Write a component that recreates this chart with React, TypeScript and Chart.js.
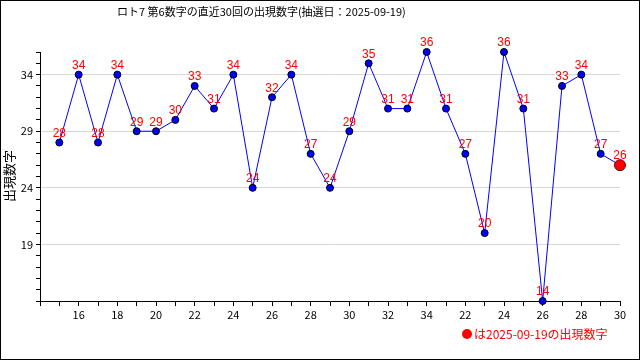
import React, { useEffect, useRef } from "react";
import { Chart, registerables } from "chart.js";

Chart.register(...registerables);

const TITLE = "ロト7 第6数字の直近30回の出現数字(抽選日：2025-09-19)";
const Y_TITLE = "出現数字";
const LEGEND_TEXT = "は2025-09-19の出現数字";
const xLabels = [
  "15", "16", "17", "18", "19", "20", "21", "22", "23", "24",
  "25", "26", "27", "28", "29", "30", "31", "32", "33", "34",
  "21", "22", "23", "24", "25", "26", "27", "28", "29", "30",
];
const values = [
  28, 34, 28, 34, 29, 29, 30, 33, 31, 34,
  24, 32, 34, 27, 24, 29, 35, 31, 31, 36,
  31, 27, 20, 36, 31, 14, 33, 34, 27, 26,
];
const yMajorTicks = [19, 24, 29, 34];
const Y_MIN = 14;
const Y_MAX = 36;

const FONT = "'Noto Sans CJK JP', 'Liberation Sans', sans-serif";

export default function App() {
  const ref = useRef<HTMLCanvasElement | null>(null);
  useEffect(() => {
    document.body.style.margin = "0";
    const canvas = ref.current!;
    const n = values.length;
    const decor = {
      id: "decor",
      afterDatasetsDraw(chart: any) {
        const ctx = chart.ctx;
        const meta = chart.getDatasetMeta(0);
        ctx.save();
        ctx.fillStyle = "#ff0000";
        ctx.font = "12px 'Liberation Sans', sans-serif";
        ctx.textAlign = "center";
        ctx.textBaseline = "bottom";
        meta.data.forEach((pt: any, i: number) => {
          ctx.fillText(String(values[i]), pt.x, pt.y - 3);
        });
        ctx.restore();
      },
      afterDraw(chart: any) {
        const ctx = chart.ctx;
        ctx.save();
        // title
        ctx.fillStyle = "#000";
        ctx.font = "11px " + FONT;
        ctx.textAlign = "left";
        ctx.textBaseline = "middle";
        ctx.fillText(TITLE, 117, 12);
        // y title
        ctx.save();
        ctx.translate(9, 176);
        ctx.rotate(-Math.PI / 2);
        ctx.textAlign = "center";
        ctx.textBaseline = "middle";
        ctx.font = "13px " + FONT;
        ctx.fillText(Y_TITLE, 0, 0);
        ctx.restore();
        // legend
        ctx.fillStyle = "#ff0000";
        ctx.beginPath();
        ctx.arc(467, 334, 5, 0, Math.PI * 2);
        ctx.fill();
        ctx.font = "12px " + FONT;
        ctx.textAlign = "left";
        ctx.textBaseline = "middle";
        ctx.fillText(LEGEND_TEXT, 474, 334);
        // border
        ctx.strokeStyle = "#000";
        ctx.lineWidth = 1;
        ctx.strokeRect(0.5, 0.5, 639, 359);
        ctx.restore();
      },
    };
    const chart = new Chart(canvas, {
      type: "line",
      data: {
        datasets: [
          {
            data: values.map((v, i) => ({ x: i + 1, y: v })),
            borderColor: "#0000ff",
            borderWidth: 1,
            pointBackgroundColor: values.map((_, i) => (i === n - 1 ? "#ff0000" : "#0000ff")),
            pointBorderColor: values.map((_, i) => (i === n - 1 ? "#600000" : "#000000")),
            pointBorderWidth: 1,
            pointRadius: values.map((_, i) => (i === n - 1 ? 5.5 : 3.5)),
            tension: 0,
            clip: false as any,
          },
        ],
      },
      options: {
        responsive: false,
        animation: false,
        layout: { padding: { top: 52, right: 20, left: 0, bottom: 0 } },
        plugins: { legend: { display: false }, tooltip: { enabled: false }, title: { display: false } },
        scales: {
          x: {
            type: "linear",
            min: 0,
            max: n,
            afterFit: (s: any) => { s.height = 59; },
            border: { display: true, color: "#000" },
            grid: { drawOnChartArea: false, drawTicks: true, tickLength: 5, color: "#000", tickColor: "#000" },
            ticks: {
              stepSize: 1,
              autoSkip: false,
              maxRotation: 0,
              color: "#000",
              font: { family: FONT, size: 11 },
              padding: 2,
              callback: (v: any) => {
                const k = Number(v);
                return k >= 1 && k % 2 === 0 ? xLabels[k - 1] : "";
              },
            },
          },
          y: {
            type: "linear",
            min: Y_MIN,
            max: Y_MAX,
            afterFit: (s: any) => { s.width = 40; },
            border: { display: true, color: "#000" },
            grid: {
              drawTicks: true,
              tickLength: 4,
              tickColor: "#000",
              color: (c: any) => (c.tick && yMajorTicks.includes(c.tick.value) ? "#d8d8d8" : "rgba(0,0,0,0)"),
            },
            ticks: {
              stepSize: 1,
              autoSkip: false,
              color: "#000",
              font: { family: FONT, size: 11 },
              padding: 3,
              callback: (v: any) => (yMajorTicks.includes(Number(v)) ? String(v) : ""),
            },
          },
        },
      },
      plugins: [decor],
    });
    return () => chart.destroy();
  }, []);
  return <canvas ref={ref} width={640} height={360} style={{ display: "block" }} />;
}
